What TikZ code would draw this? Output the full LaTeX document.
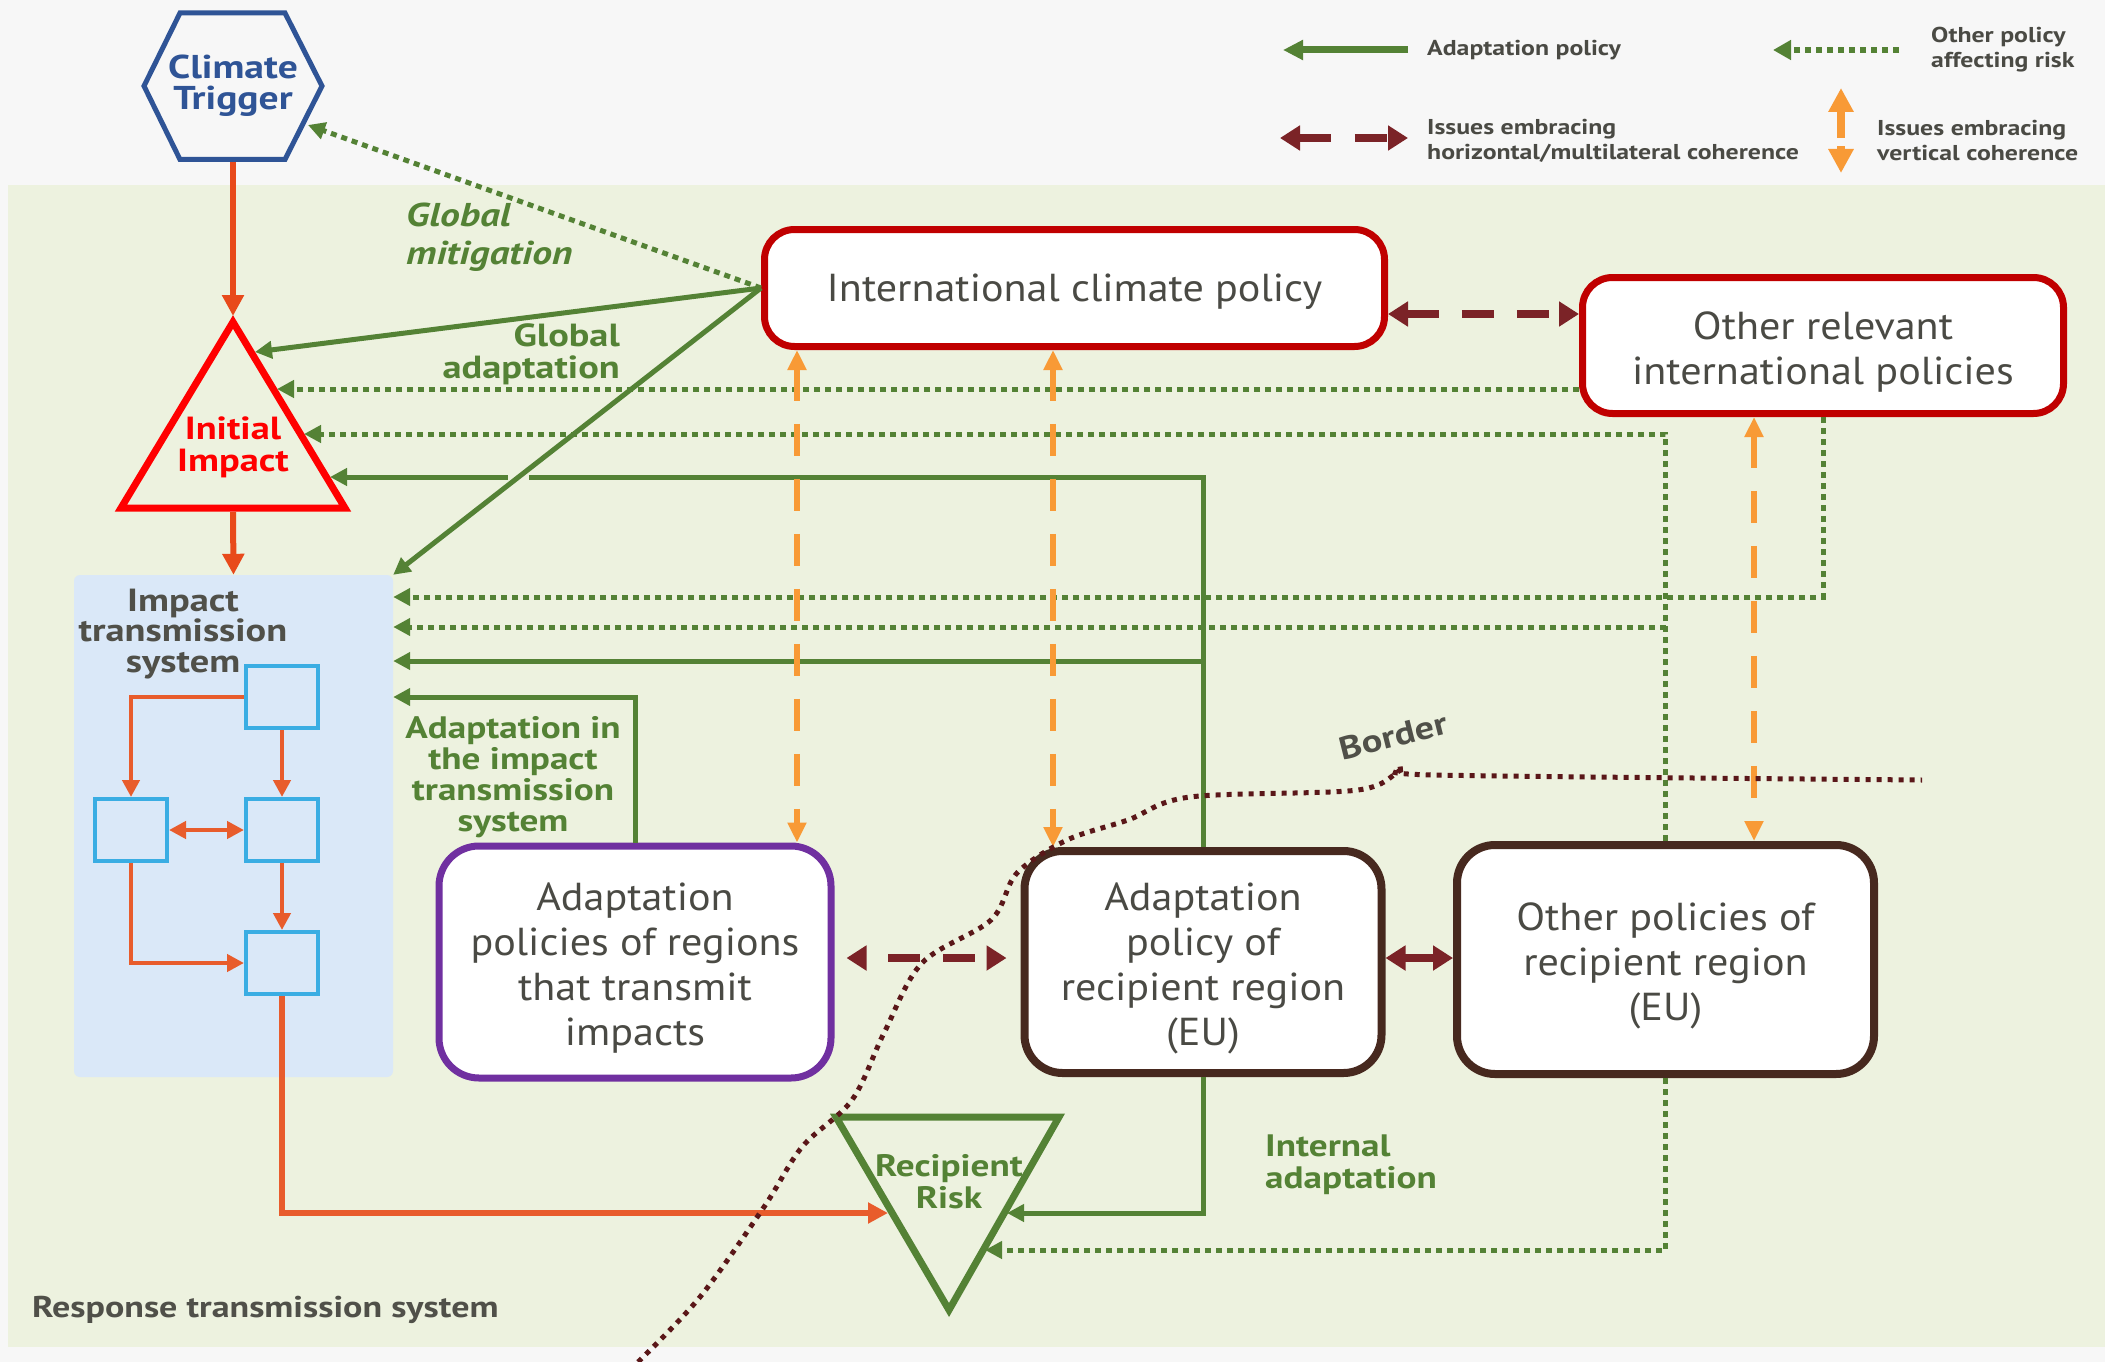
\documentclass[tikz,border=0pt]{standalone}
\usepackage{fontspec}
\setmainfont{PT Sans}[FakeStretch=1.08]
\newfontfamily\wbf{PT Sans}[FakeStretch=1.2]
\usetikzlibrary{arrows.meta,calc}
\definecolor{bgc}{HTML}{F7F7F7}
\definecolor{areac}{HTML}{EDF2DF}
\definecolor{blueA}{HTML}{DAE8F8}
\definecolor{gr}{HTML}{548235}
\definecolor{orimp}{HTML}{E84A1B}
\definecolor{orin}{HTML}{E85C2C}
\definecolor{lor}{HTML}{F89A36}
\definecolor{brn}{HTML}{7B2327}
\definecolor{redt}{HTML}{FF0000}
\definecolor{boxred}{HTML}{C00000}
\definecolor{boxbrown}{HTML}{47291F}
\definecolor{purp}{HTML}{7030A0}
\definecolor{sqb}{HTML}{3AADE3}
\definecolor{tgray}{HTML}{4A4A44}
\definecolor{lgray}{HTML}{505049}
\definecolor{hexb}{HTML}{2F5496}
\definecolor{bordc}{HTML}{5A1719}
\begin{document}
\begin{tikzpicture}[x=1pt,y=-1pt,
  gsolid/.style={draw=gr, line width=5pt, -{Triangle[length=17pt,width=17pt]}},
  gdot/.style={draw=gr, line width=5pt, dash pattern=on 6pt off 5pt, -{Triangle[length=17pt,width=17pt]}},
  imp/.style={draw=orimp, line width=6pt, -{Triangle[length=21pt,width=21pt]}},
  impin/.style={draw=orin, line width=4.5pt, -{Triangle[length=17pt,width=17pt]}},
  vert/.style={draw=lor, line width=6pt, dash pattern=on 32pt off 23pt, {Triangle[length=20pt,width=18pt]}-{Triangle[length=20pt,width=18pt]}},
  horiz/.style={draw=brn, line width=8pt, dash pattern=on 32pt off 23pt, {Triangle[length=20pt,width=24pt]}-{Triangle[length=20pt,width=24pt]}},
  pbox/.style={rounded corners=30pt, fill=white, line width=7pt, align=center, text=tgray, font=\fontsize{39}{45}\selectfont, inner sep=0pt},
  sqbox/.style={draw=sqb, line width=4pt, minimum width=72pt, minimum height=62pt, inner sep=0pt},
  glabel/.style={text=gr, font=\wbf\bfseries\fontsize{31}{31}\selectfont, inner sep=0pt},
  leg/.style={text=tgray, font=\wbf\bfseries\fontsize{21.5}{25}\selectfont, anchor=west, align=left, inner sep=0pt}
]
\useasboundingbox (0,0) rectangle (2105,1362);
\fill[bgc] (0,0) rectangle (2105,1362);
\fill[areac] (8,185) rectangle (2105,1347);

% impact transmission system area
\node[fill=blueA, rounded corners=6pt, minimum width=319pt, minimum height=502pt, inner sep=0pt] (its) at (233.5,826) {};
\node[text=lgray, font=\wbf\bfseries\fontsize{32}{30.5}\selectfont, align=center, inner sep=0pt] (itslab) at (183,634) {Impact\\transmission\\system};
\node[sqbox] (A) at (282,697) {};
\node[sqbox] (B) at (131,830) {};
\node[sqbox] (C) at (282,830) {};
\node[sqbox] (D) at (282,963) {};

% policy boxes
\node[pbox, draw=boxred, minimum width=620pt, minimum height=117pt] (icp) at (1074.5,288) {\rule{0pt}{34pt}International climate policy};
\node[pbox, draw=boxred, minimum width=481pt, minimum height=136pt] (orip) at (1823,345.5) {\rule{0pt}{40pt}Other relevant\\international policies};
\node[pbox, draw=purp, minimum width=392pt, minimum height=232pt, rounded corners=40pt] (apt) at (635,962) {\rule{0pt}{40pt}Adaptation\\policies of regions\\that transmit\\impacts};
\node[pbox, draw=boxbrown, line width=8pt, minimum width=357pt, minimum height=222pt, rounded corners=38pt] (apr) at (1203,962) {\rule{0pt}{40pt}Adaptation\\policy of\\recipient region\\(EU)};
\node[pbox, draw=boxbrown, line width=8pt, minimum width=417pt, minimum height=229pt, rounded corners=38pt] (opr) at (1665.5,959.5) {\rule{0pt}{40pt}Other policies of\\recipient region\\(EU)};

% climate trigger hexagon
\draw[hexb, line width=5pt, fill=bgc] (144,86) -- (180,13) -- (285,13) -- (322,86) -- (285,159.5) -- (180,159.5) -- cycle;
\node[text=hexb, font=\wbf\bfseries\fontsize{33}{31}\selectfont, align=center, inner sep=0pt] (ct) at (233,86) {Climate\\Trigger};
\coordinate (ctS) at (233,162);

% initial impact triangle
\draw[redt, line width=7pt, line join=miter] (233,322) -- (345,508) -- (121,508) -- cycle;
\node[text=redt, font=\wbf\bfseries\fontsize{32}{32}\selectfont, align=center, inner sep=0pt] (ii) at (233,447) {Initial\\Impact};
\coordinate (iiTop) at (233,316);
\coordinate (iiBot) at (233,512);

% recipient risk triangle
\draw[gr, line width=7pt, line join=miter] (836,1117) -- (1059,1117) -- (949,1310) -- cycle;
\node[glabel, align=center, font=\wbf\bfseries\fontsize{31}{32}\selectfont] (rr) at (949,1182) {Recipient\\Risk};

% orange impact chain
\draw[imp] (ctS) -- (iiTop);
\draw[imp] (iiBot) -- (its.north);
\draw[impin] (A.west) -| (B.north);
\draw[impin] (A.south) -- (C.north);
\draw[impin, {Triangle[length=17pt,width=17pt]}-{Triangle[length=17pt,width=17pt]}] (B.east) -- (C.west);
\draw[impin] (C.south) -- (D.north);
\draw[impin] (B.south) |- (D.west);
\draw[impin, line width=6pt, -{Triangle[length=20pt,width=20pt]}] (D.south) |- (888,1213);

% green policy links
\draw[gdot] (orip.west |- 0,389) -- (277,389);
\draw[gdot] (orip.south) |- (its.east |- 0,597);
\draw[gdot] (opr.north) |- (304,434);
\draw[gdot] (opr.north |- 0,627) -- (its.east |- 0,627);
\draw[gsolid] (apr.north) |- (330,477);
\draw[areac, line width=7pt] (508,477) -- (529,477);
\draw[gsolid] (apr.north |- 0,661) -- (its.east |- 0,661);
\draw[gsolid] (apt.north) |- (its.east |- 0,697);
\draw[gsolid] (apr.south) |- (1007,1213);
\draw[gdot] (opr.south) |- (985,1250);
\draw[gsolid] (icp.west) -- (255,352);
\draw[gsolid] (icp.west) -- (its.north east);
\draw[gdot] (icp.west) -- (308,125);

% vertical coherence
\draw[vert] (icp.south -| 797,0) -- (apt.north -| 797,0);
\draw[vert] (icp.south -| 1053,0) -- (apr.north -| 1053,0);
\draw[vert] (orip.south -| 1754,0) -- (opr.north -| 1754,0);

% horizontal coherence
\draw[horiz] (icp.east |- 0,314) -- (orip.west |- 0,314);
\draw[horiz, dash phase=32pt, shorten <=12pt, shorten >=14pt] (apt.east |- 0,958) -- (apr.west |- 0,958);
\draw[horiz, solid] (apr.east |- 0,958) -- (opr.west |- 0,958);

% border
\draw[bordc, line width=5pt, dash pattern=on 5pt off 6pt] plot[smooth, tension=0.55] coordinates {(638,1362) (700,1297) (764,1207) (802,1147) (852,1100) (884,1033) (922,963) (991,920) (1017,873) (1067,840) (1128,820) (1190,797) (1358,790) (1404,769) (1434,775) (1922,780)};
\node[text=lgray, font=\wbf\bfseries\fontsize{32}{32}\selectfont, rotate=14, inner sep=0pt] (bl) at (1393,736) {Border};

% labels
\node[text=gr, font=\wbf\bfseries\itshape\fontsize{33}{38}\selectfont, align=left, anchor=west, inner sep=0pt] (gm) at (406,237) {Global\\mitigation};
\node[glabel, align=right, anchor=east, font=\wbf\bfseries\fontsize{32}{32}\selectfont] (ga) at (620,354) {Global\\adaptation};
\node[glabel, align=center] (ait) at (513,777) {Adaptation in\\the impact\\transmission\\system};
\node[glabel, align=left, anchor=west, font=\wbf\bfseries\fontsize{31}{32}\selectfont] (ia) at (1265,1165) {Internal\\adaptation};
\node[text=lgray, font=\wbf\bfseries\fontsize{30}{30}\selectfont, anchor=west, inner sep=0pt] (rts) at (32,1310) {Response transmission system};

% legend
\coordinate (l1a) at (1408,50); \coordinate (l1b) at (1283,50);
\draw[gsolid, line width=7pt, -{Triangle[length=20pt,width=19pt]}] (l1a) -- (l1b);
\node[leg] (l1t) at (1427,50) {Adaptation policy};
\coordinate (l2a) at (1899,50); \coordinate (l2b) at (1773,50);
\draw[gdot, line width=6pt, -{Triangle[length=18pt,width=19pt]}] (l2a) -- (l2b);
\node[leg] (l2t) at (1931,50) {Other policy\\affecting risk};
\coordinate (l3a) at (1280,138); \coordinate (l3b) at (1408,138);
\draw[horiz, dash pattern=on 32pt off 24pt] (l3a) -- (l3b);
\node[leg] (l3t) at (1427,141) {Issues embracing\\horizontal/multilateral coherence};
\coordinate (l4a) at (1841,173); \coordinate (l4b) at (1841,88);
\draw[draw=lor, line width=8pt, dash pattern=on 28pt off 8pt, {Triangle[length=24pt,width=24pt]}-{Triangle[length=24pt,width=24pt]}] (l4b) -- (l4a);
\node[leg] (l4t) at (1877,141) {Issues embracing\\vertical coherence};
\end{tikzpicture}
\end{document}
